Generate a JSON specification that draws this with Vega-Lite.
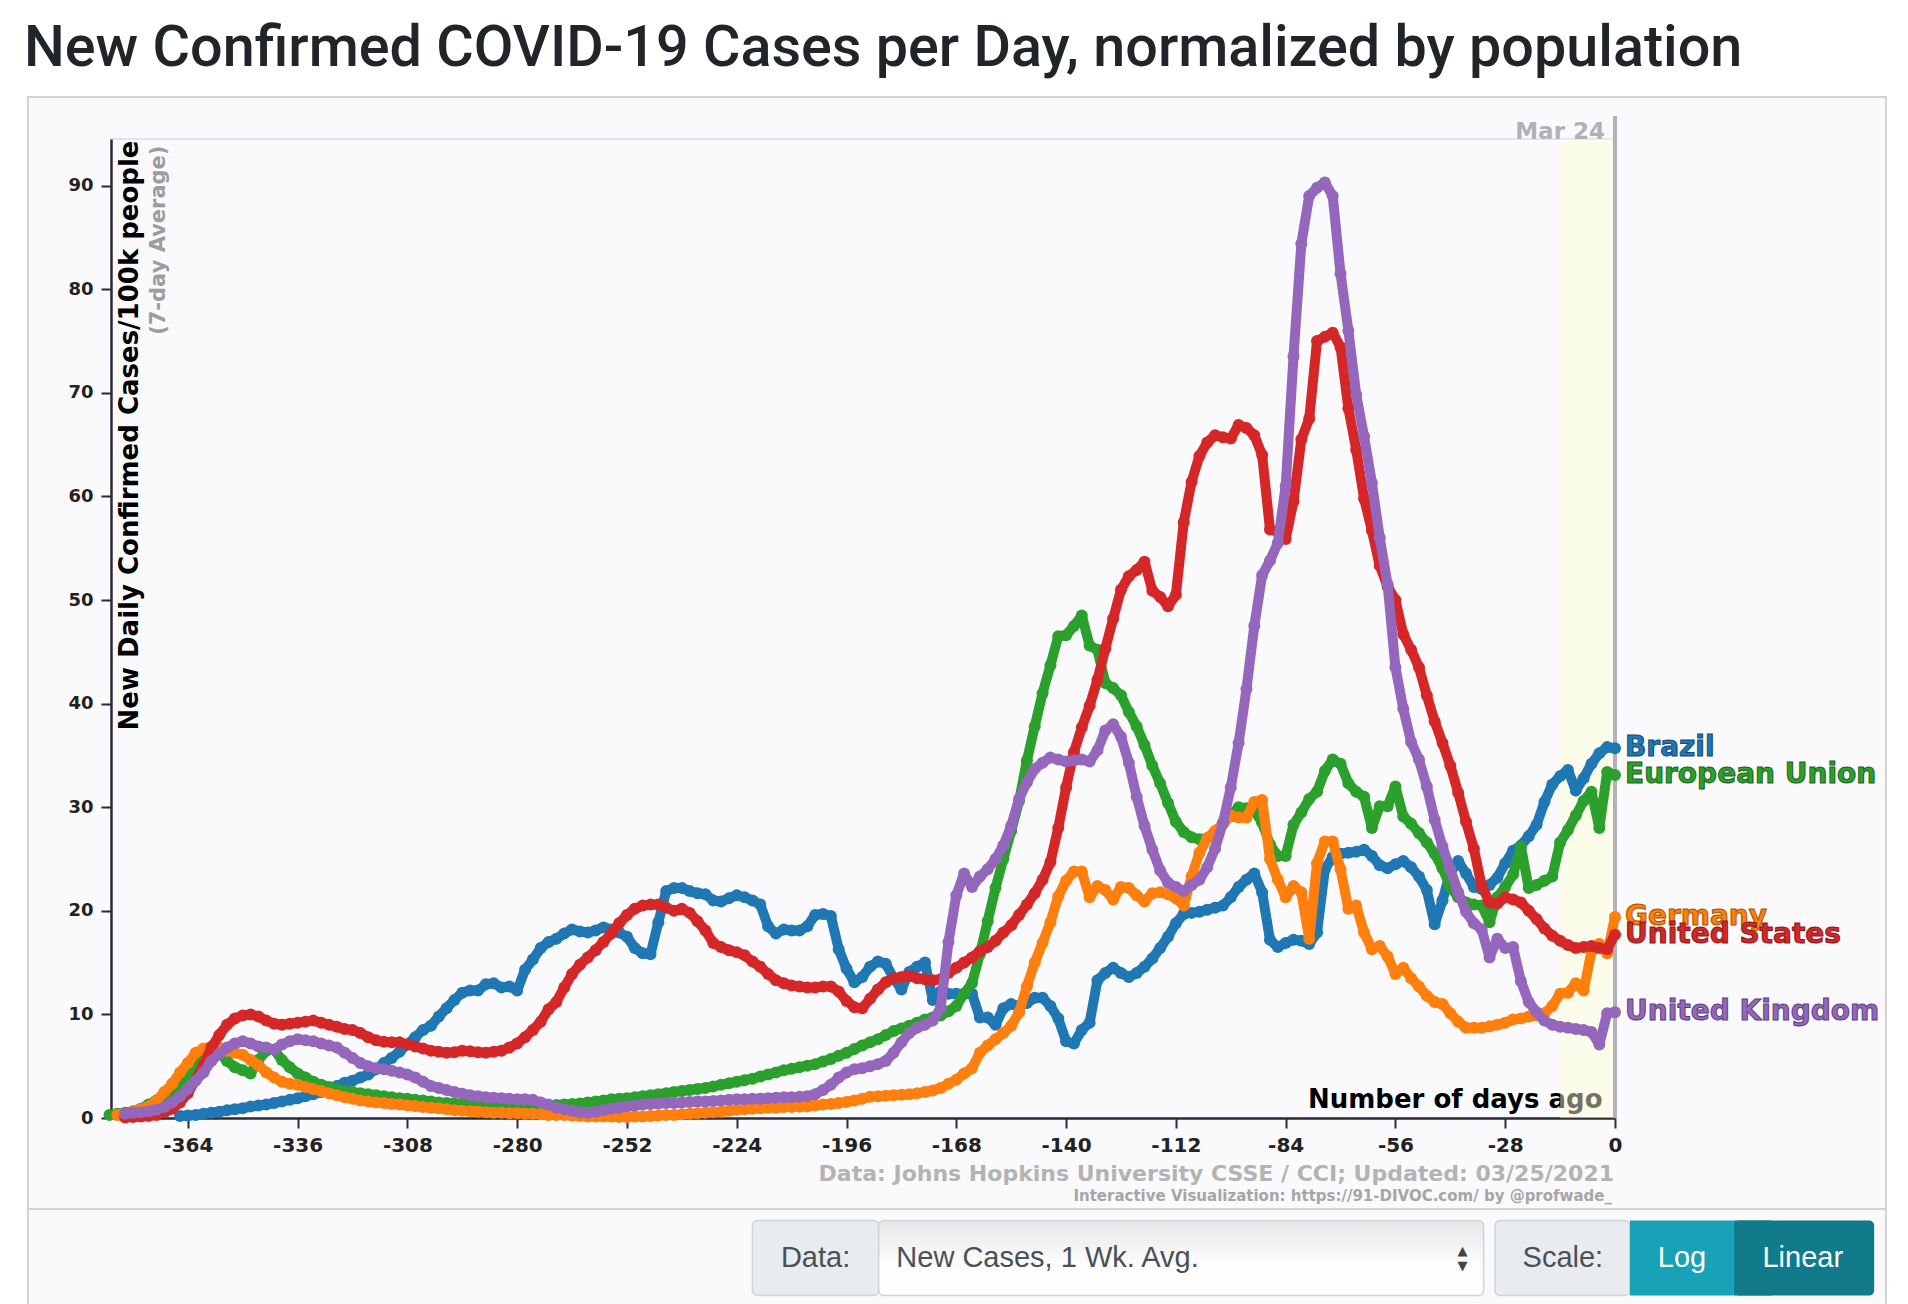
{
"$schema":"https://vega.github.io/schema/vega-lite/v6.json",
"width":1504,"height":979,
"autosize":{"type":"none"},
"padding":{"left":111,"top":139,"right":293,"bottom":186},
"background":"#fafafc",
"config":{
 "view":{"stroke":"#e6e1ef","strokeWidth":2},
 "axis":{"domainColor":"#2d2b3b","domainWidth":2.5,"tickColor":"#2d2b3b","tickWidth":2,"tickSize":10,"labelFont":"DejaVu Sans","labelFontWeight":"bold","labelFontSize":18,"labelColor":"#222222","gridColor":"#e7e2ef","gridWidth":2,"titleFont":"DejaVu Sans","titleFontWeight":"bold","titleColor":"#000000"}
},
"title":{"text":"New Confirmed COVID-19 Cases per Day, normalized by population","anchor":"start","frame":"group","font":"Roboto","fontSize":57.5,"fontWeight":500,"color":"#212529","baseline":"alphabetic","offset":-124,"dx":-87},
"datasets":{
"names":[{"k":"BR","c":"Brazil"},{"k":"EU","c":"European Union"},{"k":"DE","c":"Germany"},{"k":"US","c":"United States"},{"k":"UK","c":"United Kingdom"}],
"cases":[
{"d":-384,"EU":0.3},
{"d":-382,"EU":0.4,"DE":0.3},
{"d":-380,"EU":0.5,"DE":0.4,"US":0.05,"UK":0.4},
{"d":-378,"EU":0.65,"DE":0.6,"US":0.1,"UK":0.5},
{"d":-376,"EU":0.9,"DE":0.85,"US":0.15,"UK":0.55},
{"d":-374,"EU":1.3,"DE":1.1,"US":0.2,"UK":0.65},
{"d":-372,"EU":1.7,"DE":1.7,"US":0.3,"UK":0.8},
{"d":-370,"EU":2.1,"DE":2.5,"US":0.55,"UK":1.05},
{"d":-368,"EU":2.6,"DE":3.3,"US":0.9,"UK":1.5},
{"d":-366,"BR":0.2,"EU":3.4,"DE":4.4,"US":1.5,"UK":2.1},
{"d":-364,"BR":0.25,"EU":4.2,"DE":5.3,"US":2.4,"UK":2.8},
{"d":-362,"BR":0.3,"EU":5.1,"DE":6.3,"US":3.7,"UK":3.6},
{"d":-360,"BR":0.4,"EU":5.8,"DE":6.7,"US":5.1,"UK":4.4},
{"d":-358,"BR":0.5,"EU":6.2,"DE":6.9,"US":6.8,"UK":5.5},
{"d":-356,"BR":0.6,"EU":6.3,"DE":6.8,"US":8.0,"UK":6.2},
{"d":-354,"BR":0.75,"EU":5.5,"DE":6.5,"US":9.0,"UK":6.8},
{"d":-352,"BR":0.85,"EU":4.9,"DE":6.3,"US":9.6,"UK":7.2},
{"d":-350,"BR":0.95,"EU":4.6,"DE":6.1,"US":9.9,"UK":7.4},
{"d":-348,"BR":1.1,"EU":4.3,"DE":5.6,"US":10.0,"UK":7.2},
{"d":-346,"BR":1.2,"EU":5.6,"DE":5.1,"US":9.8,"UK":6.9},
{"d":-344,"BR":1.3,"EU":6.5,"DE":4.4,"US":9.4,"UK":6.8},
{"d":-342,"BR":1.45,"EU":6.6,"DE":3.9,"US":9.1,"UK":6.6},
{"d":-340,"BR":1.6,"EU":5.6,"DE":3.5,"US":9.0,"UK":7.1},
{"d":-338,"BR":1.75,"EU":4.9,"DE":3.3,"US":9.1,"UK":7.4},
{"d":-336,"BR":1.9,"EU":4.3,"DE":3.2,"US":9.2,"UK":7.6},
{"d":-334,"BR":2.1,"EU":3.9,"DE":3.0,"US":9.3,"UK":7.5},
{"d":-332,"BR":2.3,"EU":3.5,"DE":2.8,"US":9.4,"UK":7.4},
{"d":-330,"BR":2.5,"EU":3.2,"DE":2.6,"US":9.2,"UK":7.2},
{"d":-328,"BR":2.8,"EU":3.0,"DE":2.4,"US":9.0,"UK":7.0},
{"d":-326,"BR":3.1,"EU":2.8,"DE":2.2,"US":8.8,"UK":6.8},
{"d":-324,"BR":3.4,"EU":2.6,"DE":2.0,"US":8.6,"UK":6.3},
{"d":-322,"BR":3.6,"EU":2.5,"DE":1.85,"US":8.5,"UK":5.8},
{"d":-320,"BR":3.9,"EU":2.4,"DE":1.7,"US":8.2,"UK":5.3},
{"d":-318,"BR":4.2,"EU":2.3,"DE":1.6,"US":7.8,"UK":5.0},
{"d":-316,"BR":4.7,"EU":2.2,"DE":1.5,"US":7.5,"UK":4.8},
{"d":-314,"BR":5.3,"EU":2.1,"DE":1.45,"US":7.35,"UK":4.7},
{"d":-312,"BR":5.8,"EU":2.0,"DE":1.35,"US":7.3,"UK":4.55},
{"d":-310,"BR":6.4,"EU":1.9,"DE":1.3,"US":7.3,"UK":4.4},
{"d":-308,"BR":7.1,"EU":1.85,"DE":1.2,"US":7.1,"UK":4.2},
{"d":-306,"BR":7.8,"EU":1.75,"DE":1.15,"US":6.9,"UK":3.9},
{"d":-304,"BR":8.5,"EU":1.7,"DE":1.05,"US":6.7,"UK":3.5},
{"d":-302,"BR":8.9,"EU":1.6,"DE":1.0,"US":6.5,"UK":3.1},
{"d":-300,"BR":9.8,"EU":1.5,"DE":0.95,"US":6.4,"UK":2.9},
{"d":-298,"BR":10.6,"EU":1.45,"DE":0.85,"US":6.3,"UK":2.7},
{"d":-296,"BR":11.4,"EU":1.4,"DE":0.75,"US":6.35,"UK":2.5},
{"d":-294,"BR":12.1,"EU":1.35,"DE":0.7,"US":6.5,"UK":2.35},
{"d":-292,"BR":12.3,"EU":1.3,"DE":0.65,"US":6.45,"UK":2.2},
{"d":-290,"BR":12.3,"EU":1.25,"DE":0.6,"US":6.35,"UK":2.1},
{"d":-288,"BR":12.9,"EU":1.2,"DE":0.55,"US":6.3,"UK":2.0},
{"d":-286,"BR":13.0,"EU":1.15,"DE":0.5,"US":6.4,"UK":1.95},
{"d":-284,"BR":12.6,"EU":1.1,"DE":0.5,"US":6.5,"UK":1.9},
{"d":-282,"BR":12.7,"EU":1.1,"DE":0.45,"US":6.8,"UK":1.85},
{"d":-280,"BR":12.3,"EU":1.05,"DE":0.45,"US":7.2,"UK":1.8},
{"d":-278,"BR":14.3,"EU":1.05,"DE":0.4,"US":7.8,"UK":1.8},
{"d":-276,"BR":15.3,"EU":1.1,"DE":0.4,"US":8.5,"UK":1.75},
{"d":-274,"BR":16.4,"EU":1.15,"DE":0.35,"US":9.3,"UK":1.5},
{"d":-272,"BR":17.0,"EU":1.2,"DE":0.3,"US":10.5,"UK":1.3},
{"d":-270,"BR":17.3,"EU":1.25,"DE":0.3,"US":11.2,"UK":1.0},
{"d":-268,"BR":17.8,"EU":1.3,"DE":0.3,"US":12.6,"UK":0.85},
{"d":-266,"BR":18.2,"EU":1.35,"DE":0.25,"US":13.9,"UK":0.7},
{"d":-264,"BR":18.0,"EU":1.4,"DE":0.2,"US":14.8,"UK":0.55},
{"d":-262,"BR":17.9,"EU":1.5,"DE":0.15,"US":15.5,"UK":0.5},
{"d":-260,"BR":18.1,"EU":1.6,"DE":0.15,"US":16.2,"UK":0.6},
{"d":-258,"BR":18.4,"EU":1.7,"DE":0.15,"US":17.0,"UK":0.75},
{"d":-256,"BR":18.2,"EU":1.8,"DE":0.15,"US":17.8,"UK":0.9},
{"d":-254,"BR":17.9,"EU":1.85,"DE":0.1,"US":18.8,"UK":1.0},
{"d":-252,"BR":17.5,"EU":1.9,"DE":0.1,"US":19.6,"UK":1.1},
{"d":-250,"BR":16.4,"EU":2.0,"DE":0.15,"US":20.2,"UK":1.2},
{"d":-248,"BR":15.9,"EU":2.1,"DE":0.15,"US":20.5,"UK":1.3},
{"d":-246,"BR":15.8,"EU":2.2,"DE":0.2,"US":20.6,"UK":1.35},
{"d":-244,"BR":18.9,"EU":2.3,"DE":0.25,"US":20.6,"UK":1.4},
{"d":-242,"BR":21.9,"EU":2.4,"DE":0.3,"US":20.3,"UK":1.45},
{"d":-240,"BR":22.2,"EU":2.5,"DE":0.3,"US":20.0,"UK":1.45},
{"d":-238,"BR":22.2,"EU":2.6,"DE":0.35,"US":20.2,"UK":1.5},
{"d":-236,"BR":21.9,"EU":2.7,"DE":0.4,"US":19.8,"UK":1.55},
{"d":-234,"BR":21.7,"EU":2.8,"DE":0.45,"US":19.0,"UK":1.6},
{"d":-232,"BR":21.6,"EU":2.9,"DE":0.5,"US":18.1,"UK":1.6},
{"d":-230,"BR":21.0,"EU":3.05,"DE":0.55,"US":16.9,"UK":1.65},
{"d":-228,"BR":20.9,"EU":3.2,"DE":0.6,"US":16.5,"UK":1.7},
{"d":-226,"BR":21.2,"EU":3.35,"DE":0.7,"US":16.2,"UK":1.75},
{"d":-224,"BR":21.5,"EU":3.5,"DE":0.8,"US":16.0,"UK":1.8},
{"d":-222,"BR":21.3,"EU":3.65,"DE":0.85,"US":15.7,"UK":1.8},
{"d":-220,"BR":21.0,"EU":3.8,"DE":0.9,"US":15.1,"UK":1.85},
{"d":-218,"BR":20.6,"EU":4.0,"DE":0.95,"US":14.6,"UK":1.85},
{"d":-216,"BR":18.5,"EU":4.2,"DE":1.0,"US":13.9,"UK":1.9},
{"d":-214,"BR":17.8,"EU":4.4,"DE":1.0,"US":13.3,"UK":1.95},
{"d":-212,"BR":18.2,"EU":4.6,"DE":1.05,"US":13.0,"UK":2.0},
{"d":-210,"BR":18.1,"EU":4.75,"DE":1.05,"US":12.8,"UK":2.0},
{"d":-208,"BR":18.1,"EU":4.9,"DE":1.1,"US":12.7,"UK":2.05},
{"d":-206,"BR":18.5,"EU":5.05,"DE":1.1,"US":12.6,"UK":2.1},
{"d":-204,"BR":19.6,"EU":5.2,"DE":1.2,"US":12.6,"UK":2.3},
{"d":-202,"BR":19.7,"EU":5.45,"DE":1.3,"US":12.7,"UK":2.7},
{"d":-200,"BR":19.5,"EU":5.7,"DE":1.35,"US":12.7,"UK":3.2},
{"d":-198,"BR":16.3,"EU":6.0,"DE":1.45,"US":12.2,"UK":3.9},
{"d":-196,"BR":14.4,"EU":6.3,"DE":1.55,"US":11.3,"UK":4.4},
{"d":-194,"BR":13.1,"EU":6.65,"DE":1.7,"US":10.7,"UK":4.7},
{"d":-192,"BR":13.6,"EU":7.0,"DE":1.85,"US":10.6,"UK":4.8},
{"d":-190,"BR":14.6,"EU":7.3,"DE":2.05,"US":11.5,"UK":5.0},
{"d":-188,"BR":15.1,"EU":7.6,"DE":2.1,"US":12.4,"UK":5.2},
{"d":-186,"BR":14.9,"EU":8.0,"DE":2.15,"US":13.1,"UK":5.5},
{"d":-184,"BR":13.5,"EU":8.4,"DE":2.2,"US":13.5,"UK":6.3},
{"d":-182,"BR":12.4,"EU":8.65,"DE":2.25,"US":13.6,"UK":7.3},
{"d":-180,"BR":14.1,"EU":8.9,"DE":2.3,"US":13.7,"UK":8.2},
{"d":-178,"BR":14.6,"EU":9.2,"DE":2.4,"US":13.5,"UK":8.7},
{"d":-176,"BR":15.0,"EU":9.5,"DE":2.5,"US":13.4,"UK":9.0},
{"d":-174,"BR":11.4,"EU":9.7,"DE":2.65,"US":13.3,"UK":9.4},
{"d":-172,"BR":12.2,"EU":9.9,"DE":2.9,"US":13.4,"UK":10.6},
{"d":-170,"BR":12.0,"EU":10.3,"DE":3.3,"US":14.0,"UK":17.0},
{"d":-168,"BR":12.0,"EU":10.8,"DE":3.7,"US":14.5,"UK":21.5},
{"d":-166,"BR":12.0,"EU":12.0,"DE":4.3,"US":15.0,"UK":23.6},
{"d":-164,"BR":12.0,"EU":13.0,"DE":4.8,"US":15.5,"UK":22.3},
{"d":-162,"BR":9.7,"EU":15.8,"DE":6.3,"US":16.1,"UK":23.3},
{"d":-160,"BR":9.7,"EU":19.0,"DE":7.0,"US":16.5,"UK":24.0},
{"d":-158,"BR":9.0,"EU":22.2,"DE":7.6,"US":17.1,"UK":25.0},
{"d":-156,"BR":10.6,"EU":25.0,"DE":8.2,"US":17.9,"UK":26.3},
{"d":-154,"BR":11.0,"EU":27.7,"DE":8.9,"US":18.6,"UK":28.2},
{"d":-152,"BR":10.8,"EU":30.6,"DE":10.2,"US":19.6,"UK":30.8},
{"d":-150,"BR":11.1,"EU":34.5,"DE":12.7,"US":20.6,"UK":32.4},
{"d":-148,"BR":11.6,"EU":37.8,"DE":15.0,"US":21.7,"UK":33.7},
{"d":-146,"BR":11.6,"EU":41.0,"DE":16.9,"US":23.0,"UK":34.3},
{"d":-144,"BR":10.8,"EU":43.7,"DE":18.9,"US":24.7,"UK":34.8},
{"d":-142,"BR":9.6,"EU":46.5,"DE":21.4,"US":28.0,"UK":34.6},
{"d":-140,"BR":7.4,"EU":46.6,"DE":22.9,"US":31.9,"UK":34.4},
{"d":-138,"BR":7.2,"EU":47.5,"DE":23.8,"US":35.3,"UK":34.5},
{"d":-136,"BR":8.5,"EU":48.5,"DE":23.8,"US":37.7,"UK":34.6},
{"d":-134,"BR":9.2,"EU":45.6,"DE":21.3,"US":39.8,"UK":34.4},
{"d":-132,"BR":13.3,"EU":45.2,"DE":22.4,"US":42.3,"UK":35.5},
{"d":-130,"BR":14.0,"EU":42.0,"DE":22.0,"US":45.3,"UK":37.4},
{"d":-128,"BR":14.5,"EU":41.5,"DE":21.1,"US":48.2,"UK":38.0},
{"d":-126,"BR":14.0,"EU":40.8,"DE":22.3,"US":51.0,"UK":36.8},
{"d":-124,"BR":13.6,"EU":39.2,"DE":22.2,"US":52.3,"UK":34.3},
{"d":-122,"BR":14.0,"EU":37.8,"DE":21.5,"US":52.9,"UK":31.0},
{"d":-120,"BR":14.6,"EU":36.0,"DE":20.9,"US":53.7,"UK":28.2},
{"d":-118,"BR":15.4,"EU":34.0,"DE":21.7,"US":50.9,"UK":25.9},
{"d":-116,"BR":16.4,"EU":32.3,"DE":21.8,"US":50.3,"UK":23.9},
{"d":-114,"BR":17.5,"EU":30.4,"DE":21.6,"US":49.4,"UK":22.7},
{"d":-112,"BR":18.8,"EU":28.6,"DE":21.2,"US":50.5,"UK":22.3},
{"d":-110,"BR":19.7,"EU":27.6,"DE":20.5,"US":57.5,"UK":21.9},
{"d":-108,"BR":19.8,"EU":27.1,"DE":23.3,"US":61.4,"UK":22.5},
{"d":-106,"BR":19.9,"EU":26.9,"DE":25.6,"US":63.9,"UK":23.0},
{"d":-104,"BR":20.1,"EU":27.0,"DE":27.0,"US":65.2,"UK":24.2},
{"d":-102,"BR":20.3,"EU":27.6,"DE":27.7,"US":65.9,"UK":26.0},
{"d":-100,"BR":20.5,"EU":28.4,"DE":28.4,"US":65.7,"UK":28.5},
{"d":-98,"BR":21.3,"EU":29.2,"DE":29.2,"US":65.6,"UK":31.9},
{"d":-96,"BR":22.3,"EU":30.0,"DE":29.0,"US":66.9,"UK":36.2},
{"d":-94,"BR":23.0,"EU":29.9,"DE":29.0,"US":66.6,"UK":41.4},
{"d":-92,"BR":23.6,"EU":29.7,"DE":30.5,"US":65.9,"UK":47.5},
{"d":-90,"BR":21.8,"EU":28.5,"DE":30.7,"US":64.0,"UK":52.4},
{"d":-88,"BR":17.2,"EU":26.4,"DE":25.0,"US":56.8,"UK":53.8},
{"d":-86,"BR":16.5,"EU":25.3,"DE":23.0,"US":56.6,"UK":55.5},
{"d":-84,"BR":16.9,"EU":25.3,"DE":21.3,"US":55.9,"UK":61.0},
{"d":-82,"BR":17.2,"EU":28.3,"DE":22.4,"US":59.5,"UK":73.5},
{"d":-80,"BR":17.1,"EU":29.5,"DE":21.8,"US":65.5,"UK":84.4},
{"d":-78,"BR":16.8,"EU":30.8,"DE":17.3,"US":67.5,"UK":89.0},
{"d":-76,"BR":17.9,"EU":31.5,"DE":24.6,"US":75.0,"UK":89.8},
{"d":-74,"BR":24.0,"EU":33.5,"DE":26.7,"US":75.4,"UK":90.3},
{"d":-72,"BR":25.2,"EU":34.6,"DE":26.7,"US":75.8,"UK":89.0},
{"d":-70,"BR":25.5,"EU":34.2,"DE":24.0,"US":74.4,"UK":81.5},
{"d":-68,"BR":25.6,"EU":32.3,"DE":20.2,"US":68.5,"UK":76.0},
{"d":-66,"BR":25.7,"EU":31.5,"DE":20.5,"US":64.5,"UK":69.8},
{"d":-64,"BR":25.9,"EU":31.0,"DE":17.9,"US":59.8,"UK":65.8},
{"d":-62,"BR":25.3,"EU":28.0,"DE":16.3,"US":56.7,"UK":61.3},
{"d":-60,"BR":24.4,"EU":30.1,"DE":16.6,"US":53.3,"UK":56.0},
{"d":-58,"BR":24.1,"EU":30.1,"DE":15.6,"US":51.3,"UK":51.5},
{"d":-56,"BR":24.5,"EU":32.0,"DE":13.9,"US":50.0,"UK":43.5},
{"d":-54,"BR":24.8,"EU":29.1,"DE":14.5,"US":46.7,"UK":39.5},
{"d":-52,"BR":24.2,"EU":28.4,"DE":13.5,"US":45.2,"UK":36.3},
{"d":-50,"BR":23.3,"EU":27.5,"DE":12.7,"US":43.5,"UK":34.6},
{"d":-48,"BR":22.0,"EU":26.6,"DE":11.8,"US":40.8,"UK":32.0},
{"d":-46,"BR":18.7,"EU":25.5,"DE":11.2,"US":38.3,"UK":28.8},
{"d":-44,"BR":21.0,"EU":24.1,"DE":11.0,"US":36.2,"UK":26.2},
{"d":-42,"BR":23.7,"EU":22.3,"DE":10.1,"US":34.0,"UK":24.0},
{"d":-40,"BR":24.8,"EU":21.3,"DE":9.3,"US":31.4,"UK":21.8},
{"d":-38,"BR":23.6,"EU":20.8,"DE":8.7,"US":28.6,"UK":19.9},
{"d":-36,"BR":22.3,"EU":20.6,"DE":8.7,"US":26.0,"UK":18.8},
{"d":-34,"BR":22.1,"EU":20.5,"DE":8.7,"US":22.4,"UK":18.2},
{"d":-32,"BR":22.5,"EU":18.9,"DE":8.85,"US":20.8,"UK":15.5},
{"d":-30,"BR":23.2,"EU":21.3,"DE":9.0,"US":20.7,"UK":17.3},
{"d":-28,"BR":24.6,"EU":22.3,"DE":9.2,"US":21.3,"UK":16.4},
{"d":-26,"BR":25.8,"EU":23.5,"DE":9.5,"US":21.1,"UK":16.5},
{"d":-24,"BR":26.3,"EU":26.2,"DE":9.6,"US":20.8,"UK":13.2},
{"d":-22,"BR":27.2,"EU":22.2,"DE":9.8,"US":20.0,"UK":11.2},
{"d":-20,"BR":28.3,"EU":22.5,"DE":9.9,"US":19.2,"UK":10.2},
{"d":-18,"BR":30.5,"EU":22.9,"DE":10.1,"US":18.3,"UK":9.4},
{"d":-16,"BR":32.2,"EU":23.3,"DE":10.8,"US":17.6,"UK":9.0},
{"d":-14,"BR":33.0,"EU":26.6,"DE":12.0,"US":17.1,"UK":8.8},
{"d":-12,"BR":33.6,"EU":27.8,"DE":12.1,"US":16.7,"UK":8.7},
{"d":-10,"BR":31.6,"EU":29.2,"DE":13.0,"US":16.4,"UK":8.6},
{"d":-8,"BR":32.8,"EU":30.6,"DE":12.3,"US":16.5,"UK":8.5},
{"d":-6,"BR":34.2,"EU":31.5,"DE":16.1,"US":16.6,"UK":8.3},
{"d":-4,"BR":35.2,"EU":28.0,"DE":16.8,"US":16.4,"UK":7.1},
{"d":-2,"BR":35.8,"EU":33.4,"DE":15.9,"US":16.3,"UK":10.1},
{"d":0,"BR":35.7,"EU":33.1,"DE":19.4,"US":17.7,"UK":10.2}
]},
"layer":[
{"data":{"values":[{}]},"mark":{"type":"rect","fill":"#ffffff"},"encoding":{"x":{"datum":-420,"type":"quantitative","scale":{"domain":[-383.6,0],"nice":false,"zero":false}},"x2":{"datum":80},"y":{"datum":98.55,"type":"quantitative","scale":{"domain":[0,94.5],"nice":false,"zero":false}},"y2":{"datum":107.92}}},
{"data":{"values":[{}]},"mark":{"type":"rect","fill":"#ffffff"},"encoding":{"x":{"datum":-420,"type":"quantitative","scale":{"domain":[-383.6,0],"nice":false,"zero":false}},"x2":{"datum":-404.8},"y":{"datum":-30,"type":"quantitative","scale":{"domain":[0,94.5],"nice":false,"zero":false}},"y2":{"datum":107.92}}},
{"data":{"values":[{}]},"mark":{"type":"rect","fill":"#ffffff"},"encoding":{"x":{"datum":69.1,"type":"quantitative","scale":{"domain":[-383.6,0],"nice":false,"zero":false}},"x2":{"datum":80},"y":{"datum":-30,"type":"quantitative","scale":{"domain":[0,94.5],"nice":false,"zero":false}},"y2":{"datum":107.92}}},
{"data":{"values":[{}]},"mark":{"type":"rect","fill":"transparent","stroke":"#d2d2d2","strokeWidth":2},"encoding":{"x":{"datum":-404.8,"type":"quantitative","scale":{"domain":[-383.6,0],"nice":false,"zero":false}},"x2":{"datum":69.1},"y":{"datum":-30,"type":"quantitative","scale":{"domain":[0,94.5],"nice":false,"zero":false}},"y2":{"datum":98.55}}},
{"data":{"values":[{}]},"mark":{"type":"rule","stroke":"#d2d2d2","strokeWidth":2},"encoding":{"x":{"datum":-404.8,"type":"quantitative","scale":{"domain":[-383.6,0],"nice":false,"zero":false}},"x2":{"datum":69.1},"y":{"datum":-8.79,"type":"quantitative","scale":{"domain":[0,94.5],"nice":false,"zero":false}}}},
{"data":{"values":[{}]},"mark":{"type":"rect","fill":"#ffffd8","opacity":0.45},"encoding":{"x":{"datum":-14,"type":"quantitative","scale":{"domain":[-383.6,0],"nice":false,"zero":false}},"x2":{"datum":0},"y":{"datum":0,"type":"quantitative","scale":{"domain":[0,94.5],"nice":false,"zero":false}},"y2":{"datum":94.5}}},
{"data":{"values":[{}]},"mark":{"type":"rule","stroke":"#b4b0bb","strokeWidth":4},"encoding":{"x":{"datum":0,"type":"quantitative","scale":{"domain":[-383.6,0],"nice":false,"zero":false}},"y":{"datum":0,"type":"quantitative","scale":{"domain":[0,94.5],"nice":false,"zero":false}},"y2":{"datum":96.72}}},
{"data":{"values":[{}]},"mark":{"type":"text","text":"Mar 24","align":"right","baseline":"alphabetic","dx":-10,"font":"DejaVu Sans","fontWeight":"bold","fontSize":23,"color":"#b0b0b6"},"encoding":{"x":{"datum":0,"type":"quantitative","scale":{"domain":[-383.6,0],"nice":false,"zero":false}},"y":{"datum":94.5,"type":"quantitative","scale":{"domain":[0,94.5],"nice":false,"zero":false}}}},
{"data":{"values":[{}]},"mark":{"type":"text","text":"(7-day Average)","angle":270,"align":"right","baseline":"alphabetic","font":"DejaVu Sans","fontWeight":"bold","fontSize":21,"color":"#9d9d9d"},"encoding":{"x":{"datum":-369.8,"type":"quantitative","scale":{"domain":[-383.6,0],"nice":false,"zero":false}},"y":{"datum":93.87,"type":"quantitative","scale":{"domain":[0,94.5],"nice":false,"zero":false}}}},
{"data":{"values":[{}]},"mark":{"type":"text","text":"Data: Johns Hopkins University CSSE / CCI; Updated: 03/25/2021","align":"right","baseline":"middle","dx":-1,"font":"DejaVu Sans","fontWeight":"bold","fontSize":22,"color":"#b3b3b3"},"encoding":{"x":{"datum":0,"type":"quantitative","scale":{"domain":[-383.6,0],"nice":false,"zero":false}},"y":{"datum":-5.38,"type":"quantitative","scale":{"domain":[0,94.5],"nice":false,"zero":false}}}},
{"data":{"values":[{}]},"mark":{"type":"text","text":"Interactive Visualization: https://91-DIVOC.com/ by @profwade_","align":"right","baseline":"middle","dx":-3,"font":"DejaVu Sans","fontWeight":"bold","fontSize":15,"color":"#a5a5a5"},"encoding":{"x":{"datum":0,"type":"quantitative","scale":{"domain":[-383.6,0],"nice":false,"zero":false}},"y":{"datum":-7.51,"type":"quantitative","scale":{"domain":[0,94.5],"nice":false,"zero":false}}}},
{"data":{"values":[{}]},"mark":{"type":"rect","fill":"#e9ecef","stroke":"#ced4da","strokeWidth":1.5,"cornerRadius":5},"encoding":{"x":{"datum":-220.0,"type":"quantitative","scale":{"domain":[-383.6,0],"nice":false,"zero":false}},"x2":{"datum":-187.8},"y":{"datum":-9.89,"type":"quantitative","scale":{"domain":[0,94.5],"nice":false,"zero":false}},"y2":{"datum":-17.13}}},
{"data":{"values":[{}]},"mark":{"type":"rect","fill":{"gradient":"linear","x1":0,"y1":0,"x2":0,"y2":1,"stops":[{"offset":0,"color":"#e6e6e6"},{"offset":0.6,"color":"#fdfdfd"},{"offset":1,"color":"#ffffff"}]},"stroke":"#ced4da","strokeWidth":1.5,"cornerRadius":5},"encoding":{"x":{"datum":-187.8,"type":"quantitative","scale":{"domain":[-383.6,0],"nice":false,"zero":false}},"x2":{"datum":-33.5},"y":{"datum":-9.89,"type":"quantitative","scale":{"domain":[0,94.5],"nice":false,"zero":false}},"y2":{"datum":-17.13}}},
{"data":{"values":[{}]},"mark":{"type":"rect","fill":"#e9ecef","stroke":"#ced4da","strokeWidth":1.5,"cornerRadius":5},"encoding":{"x":{"datum":-30.6,"type":"quantitative","scale":{"domain":[-383.6,0],"nice":false,"zero":false}},"x2":{"datum":3.8},"y":{"datum":-9.89,"type":"quantitative","scale":{"domain":[0,94.5],"nice":false,"zero":false}},"y2":{"datum":-17.13}}},
{"data":{"values":[{}]},"mark":{"type":"rect","fill":"#17a2b8"},"encoding":{"x":{"datum":3.8,"type":"quantitative","scale":{"domain":[-383.6,0],"nice":false,"zero":false}},"x2":{"datum":30.3},"y":{"datum":-9.89,"type":"quantitative","scale":{"domain":[0,94.5],"nice":false,"zero":false}},"y2":{"datum":-17.13}}},
{"data":{"values":[{}]},"mark":{"type":"rect","fill":"#117a8b","cornerRadius":5},"encoding":{"x":{"datum":30.3,"type":"quantitative","scale":{"domain":[-383.6,0],"nice":false,"zero":false}},"x2":{"datum":66.1},"y":{"datum":-9.89,"type":"quantitative","scale":{"domain":[0,94.5],"nice":false,"zero":false}},"y2":{"datum":-17.13}}},
{"data":{"values":[{}]},"mark":{"type":"rect","fill":"#117a8b"},"encoding":{"x":{"datum":30.3,"type":"quantitative","scale":{"domain":[-383.6,0],"nice":false,"zero":false}},"x2":{"datum":40},"y":{"datum":-9.89,"type":"quantitative","scale":{"domain":[0,94.5],"nice":false,"zero":false}},"y2":{"datum":-17.13}}},
{"data":{"values":[{}]},"mark":{"type":"text","text":"Data:","align":"center","baseline":"middle","font":"Liberation Sans","fontSize":29,"color":"#495057"},"encoding":{"x":{"datum":-203.9,"type":"quantitative","scale":{"domain":[-383.6,0],"nice":false,"zero":false}},"y":{"datum":-13.51,"type":"quantitative","scale":{"domain":[0,94.5],"nice":false,"zero":false}}}},
{"data":{"values":[{}]},"mark":{"type":"text","text":"New Cases, 1 Wk. Avg.","align":"left","baseline":"middle","font":"Liberation Sans","fontSize":29,"color":"#495057"},"encoding":{"x":{"datum":-183.3,"type":"quantitative","scale":{"domain":[-383.6,0],"nice":false,"zero":false}},"y":{"datum":-13.51,"type":"quantitative","scale":{"domain":[0,94.5],"nice":false,"zero":false}}}},
{"data":{"values":[{}]},"mark":{"type":"text","text":"▲","align":"center","baseline":"middle","font":"DejaVu Sans","fontSize":13,"color":"#444444"},"encoding":{"x":{"datum":-38.9,"type":"quantitative","scale":{"domain":[-383.6,0],"nice":false,"zero":false}},"y":{"datum":-12.8,"type":"quantitative","scale":{"domain":[0,94.5],"nice":false,"zero":false}}}},
{"data":{"values":[{}]},"mark":{"type":"text","text":"▼","align":"center","baseline":"middle","font":"DejaVu Sans","fontSize":13,"color":"#444444"},"encoding":{"x":{"datum":-38.9,"type":"quantitative","scale":{"domain":[-383.6,0],"nice":false,"zero":false}},"y":{"datum":-14.3,"type":"quantitative","scale":{"domain":[0,94.5],"nice":false,"zero":false}}}},
{"data":{"values":[{}]},"mark":{"type":"text","text":"Scale:","align":"center","baseline":"middle","font":"Liberation Sans","fontSize":29,"color":"#495057"},"encoding":{"x":{"datum":-13.3,"type":"quantitative","scale":{"domain":[-383.6,0],"nice":false,"zero":false}},"y":{"datum":-13.51,"type":"quantitative","scale":{"domain":[0,94.5],"nice":false,"zero":false}}}},
{"data":{"values":[{}]},"mark":{"type":"text","text":"Log","align":"center","baseline":"middle","font":"Liberation Sans","fontSize":29,"color":"#ffffff"},"encoding":{"x":{"datum":17.1,"type":"quantitative","scale":{"domain":[-383.6,0],"nice":false,"zero":false}},"y":{"datum":-13.51,"type":"quantitative","scale":{"domain":[0,94.5],"nice":false,"zero":false}}}},
{"data":{"values":[{}]},"mark":{"type":"text","text":"Linear","align":"center","baseline":"middle","font":"Liberation Sans","fontSize":29,"color":"#ffffff"},"encoding":{"x":{"datum":47.9,"type":"quantitative","scale":{"domain":[-383.6,0],"nice":false,"zero":false}},"y":{"datum":-13.51,"type":"quantitative","scale":{"domain":[0,94.5],"nice":false,"zero":false}}}},
{
 "data":{"name":"cases"},
 "transform":[
  {"fold":["BR","EU","DE","US","UK"],"as":["k","v"]},
  {"filter":"isValid(datum.v)"},
  {"lookup":"k","from":{"data":{"name":"names"},"key":"k","fields":["c"]}}
 ],
 "encoding":{
  "x":{"field":"d","type":"quantitative","scale":{"domain":[-383.6,0],"nice":false,"zero":false},"axis":{"values":[-364,-336,-308,-280,-252,-224,-196,-168,-140,-112,-84,-56,-28,0],"labelExpr":"'' + datum.value","labelFontSize":20,"labelPadding":7,"labelFlush":false,"labelOverlap":false,"title":"Number of days ago","titleFontSize":26,"titleX":1491,"titleY":-11,"titleAlign":"right","titleBaseline":"alphabetic"}},
  "y":{"field":"v","type":"quantitative","scale":{"domain":[0,94.5],"nice":false,"zero":false},"axis":{"values":[0,10,20,30,40,50,60,70,80,90],"labelPadding":8,"labelFlush":false,"title":"New Daily Confirmed Cases/100k people","titleFontSize":26,"titleAngle":270,"titleX":26,"titleY":1,"titleAlign":"right","titleBaseline":"alphabetic"}},
  "color":{"field":"c","type":"nominal","scale":{"domain":["Brazil","European Union","Germany","United States","United Kingdom"],"range":["#1f77b4","#2ca02c","#ff7f0e","#d62728","#9467bd"]},"legend":null}
 },
 "layer":[
  {"transform":[{"filter":{"field":"k","equal":"BR"}}],"layer":[{"mark":{"type":"line","strokeWidth":10,"strokeJoin":"round","strokeCap":"round"}},{"mark":{"type":"circle","size":144,"opacity":1}}]},
  {"transform":[{"filter":{"field":"k","equal":"EU"}}],"layer":[{"mark":{"type":"line","strokeWidth":10,"strokeJoin":"round","strokeCap":"round"}},{"mark":{"type":"circle","size":144,"opacity":1}}]},
  {"transform":[{"filter":{"field":"k","equal":"DE"}}],"layer":[{"mark":{"type":"line","strokeWidth":10,"strokeJoin":"round","strokeCap":"round"}},{"mark":{"type":"circle","size":144,"opacity":1}}]},
  {"transform":[{"filter":{"field":"k","equal":"US"}}],"layer":[{"mark":{"type":"line","strokeWidth":10,"strokeJoin":"round","strokeCap":"round"}},{"mark":{"type":"circle","size":144,"opacity":1}}]},
  {"transform":[{"filter":{"field":"k","equal":"UK"}}],"layer":[{"mark":{"type":"line","strokeWidth":10,"strokeJoin":"round","strokeCap":"round"}},{"mark":{"type":"circle","size":144,"opacity":1}}]},
  {"transform":[{"filter":"datum.d == 0"}],"mark":{"type":"text","align":"left","baseline":"middle","dx":10,"font":"DejaVu Sans","fontWeight":"bold","fontSize":28,"strokeWidth":1},"encoding":{"text":{"field":"c"},"stroke":{"field":"c","type":"nominal","scale":{"domain":["Brazil","European Union","Germany","United States","United Kingdom"],"range":["#124a73","#1b631b","#a85200","#861818","#5a3e7c"]},"legend":null}}}
 ]
}
]
}
